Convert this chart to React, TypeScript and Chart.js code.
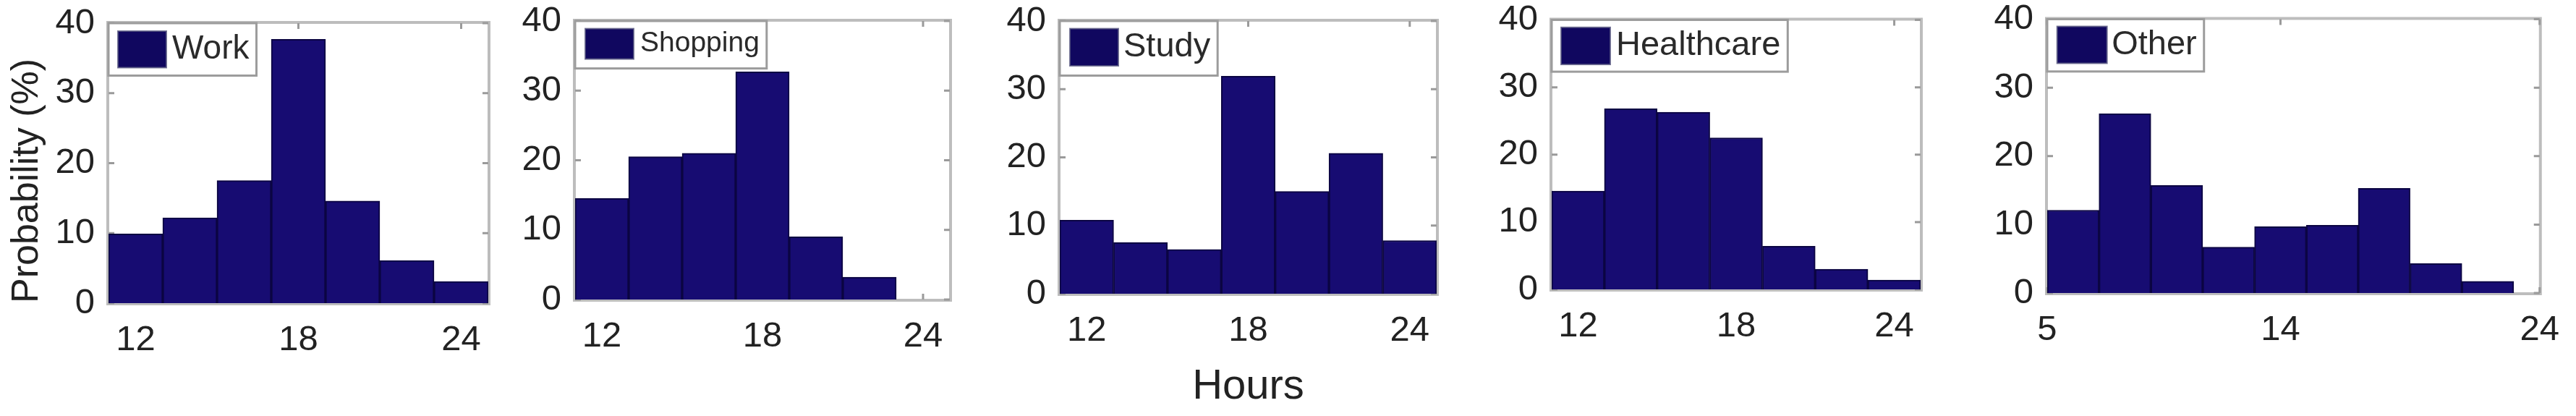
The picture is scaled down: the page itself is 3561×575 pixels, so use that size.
import React, { useEffect, useRef } from 'react';
import { Chart, registerables } from 'chart.js';

Chart.register(...registerables);

// ---------------- data ----------------
const CATEGORY_NAMES = ['Work', 'Shopping', 'Study', 'Healthcare', 'Other'];

const HOURS_MAIN = [12, 14, 16, 18, 20, 22, 24];
const HOURS_OTHER = [6, 8, 10, 12, 14, 16, 18, 20, 22];

const WORK_PROB = [9.9, 12.2, 17.5, 37.7, 14.6, 6.1, 3.1];
const SHOPPING_PROB = [14.5, 20.5, 21.0, 32.7, 9.0, 3.2, 0];
const STUDY_PROB = [10.8, 7.5, 6.5, 31.9, 15.0, 20.6, 7.8];
const HEALTHCARE_PROB = [14.6, 26.8, 26.3, 22.5, 6.4, 3.0, 1.4];
const OTHER_PROB = [12.1, 26.2, 15.7, 6.7, 9.7, 9.9, 15.3, 4.3, 1.7];

const X_TICKS_MAIN = [12, 18, 24];
const X_TICKS_OTHER = [5, 14, 24];
const X_RANGE_MAIN = [11, 25];
const X_RANGE_OTHER = [5, 24];

const Y_TICKS = [0, 10, 20, 30, 40];
const Y_RANGE = [0, 40];

const Y_TITLE = 'Probability (%)';
const X_TITLE = 'Hours';

// ---------------- style / layout ----------------
const FONT = '"Liberation Sans", Arial, Helvetica, sans-serif';
const TEXT_COLOR = '#222222';
const BAR_COLOR = '#170c72';
const BAR_EDGE = '#0b0542';
const SWATCH_COLOR = '#10075f';
const BOX_COLOR = '#bdbdbd';
const INNER_TICK_COLOR = '#9a9a9a';
const LEGEND_BORDER = '#9c9c9c';

const TOP_OFFSET = 40;
const PAGE_H = 575;
const PAD_RIGHT = 40;
const TICK_FONT = 49;

const LAYOUTS = [
  { left: 150, right: 675, top: 32, bottom: 419, axisW: 150, lgFont: 46, lgH: 72.5, swDx: 13, swDy: 11, swW: 67, swH: 50.5, gap: 8 },
  { left: 795, right: 1313, top: 29, bottom: 414, axisW: 120, lgFont: 39, lgH: 65.6, swDx: 14, swDy: 10.6, swW: 67, swH: 42, gap: 9 },
  { left: 1465, right: 1986, top: 29, bottom: 406, axisW: 120, lgFont: 47, lgH: 75.5, swDx: 14, swDy: 10.6, swW: 67, swH: 51.4, gap: 7 },
  { left: 2145, right: 2655, top: 27.5, bottom: 400, axisW: 120, lgFont: 47, lgH: 71.6, swDx: 13, swDy: 10.3, swW: 68, swH: 51.3, gap: 8 },
  { left: 2830, right: 3520, top: 26.5, bottom: 405, axisW: 120, lgFont: 47, lgH: 72.3, swDx: 13.7, swDy: 10, swW: 69, swH: 51, gap: 6.5 },
];

const PANELS = [
  { name: CATEGORY_NAMES[0], hours: HOURS_MAIN, prob: WORK_PROB, xTicks: X_TICKS_MAIN, xRange: X_RANGE_MAIN, yTitle: true, xTitle: false },
  { name: CATEGORY_NAMES[1], hours: HOURS_MAIN, prob: SHOPPING_PROB, xTicks: X_TICKS_MAIN, xRange: X_RANGE_MAIN, yTitle: false, xTitle: false },
  { name: CATEGORY_NAMES[2], hours: HOURS_MAIN, prob: STUDY_PROB, xTicks: X_TICKS_MAIN, xRange: X_RANGE_MAIN, yTitle: false, xTitle: true },
  { name: CATEGORY_NAMES[3], hours: HOURS_MAIN, prob: HEALTHCARE_PROB, xTicks: X_TICKS_MAIN, xRange: X_RANGE_MAIN, yTitle: false, xTitle: false },
  { name: CATEGORY_NAMES[4], hours: HOURS_OTHER, prob: OTHER_PROB, xTicks: X_TICKS_OTHER, xRange: X_RANGE_OTHER, yTitle: false, xTitle: false },
];

function makeFramePlugin(panel: any, lay: any) {
  return {
    id: 'frameAndLegend',
    beforeDatasetsDraw(chart: any) {
      const { ctx, chartArea: a, scales } = chart;
      ctx.save();
      ctx.strokeStyle = BOX_COLOR;
      ctx.lineWidth = 4;
      ctx.strokeRect(a.left - 1, a.top - 1, a.right - a.left + 2, a.bottom - a.top + 2);
      ctx.strokeStyle = INNER_TICK_COLOR;
      ctx.lineWidth = 3;
      const L = 8;
      ctx.beginPath();
      for (const v of Y_TICKS) {
        const y = scales.y.getPixelForValue(v);
        ctx.moveTo(a.left, y);
        ctx.lineTo(a.left + L, y);
        ctx.moveTo(a.right, y);
        ctx.lineTo(a.right - L, y);
      }
      for (const v of panel.xTicks) {
        const x = scales.x.getPixelForValue(v);
        ctx.moveTo(x, a.top);
        ctx.lineTo(x, a.top + L);
        ctx.moveTo(x, a.bottom);
        ctx.lineTo(x, a.bottom - L);
      }
      ctx.stroke();
      ctx.restore();
    },
    afterDatasetsDraw(chart: any) {
      const { ctx, chartArea: a } = chart;
      ctx.save();
      ctx.font = `${lay.lgFont}px ${FONT}`;
      const tw = ctx.measureText(panel.name).width;
      const bx = a.left;
      const by = a.top;
      const sx = bx + lay.swDx;
      const sy = by + lay.swDy;
      const tx = sx + lay.swW + lay.gap;
      const bw = tx + tw + 10 - bx;
      ctx.fillStyle = '#ffffff';
      ctx.fillRect(bx, by, bw, lay.lgH);
      ctx.strokeStyle = LEGEND_BORDER;
      ctx.lineWidth = 3;
      ctx.strokeRect(bx, by, bw, lay.lgH);
      ctx.fillStyle = SWATCH_COLOR;
      ctx.fillRect(sx, sy, lay.swW, lay.swH);
      ctx.strokeStyle = 'rgba(90,90,130,0.8)';
      ctx.lineWidth = 2;
      ctx.strokeRect(sx, sy, lay.swW, lay.swH);
      ctx.fillStyle = '#2a2a2a';
      ctx.textAlign = 'left';
      ctx.textBaseline = 'middle';
      ctx.fillText(panel.name, tx, sy + lay.swH / 2);
      ctx.restore();
    },
  };
}

function HistPanel({ index }: { index: number }) {
  const ref = useRef<HTMLCanvasElement | null>(null);
  const panel = PANELS[index];
  const lay = LAYOUTS[index];
  const canvasLeft = lay.left - lay.axisW;
  const canvasW = lay.axisW + (lay.right - lay.left) + PAD_RIGHT;
  const canvasH = PAGE_H + TOP_OFFSET;
  const xAxisH = PAGE_H - lay.bottom;

  useEffect(() => {
    if (!ref.current) return;
    const chart = new Chart(ref.current, {
      type: 'bar',
      data: {
        datasets: [
          {
            label: panel.name,
            data: panel.hours.map((h, i) => ({ x: h, y: panel.prob[i] })),
            backgroundColor: BAR_COLOR,
            borderColor: BAR_EDGE,
            borderWidth: 2,
            barPercentage: 1,
            categoryPercentage: 1,
          },
        ],
      },
      options: {
        responsive: false,
        maintainAspectRatio: false,
        animation: false,
        devicePixelRatio: 1,
        events: [],
        layout: { padding: { top: lay.top + TOP_OFFSET, right: PAD_RIGHT, left: 0, bottom: 0 } },
        plugins: { legend: { display: false }, tooltip: { enabled: false } },
        scales: {
          x: {
            type: 'linear',
            min: panel.xRange[0],
            max: panel.xRange[1],
            offset: false,
            grid: { display: false, drawTicks: false },
            border: { display: false },
            ticks: {
              autoSkip: false,
              maxRotation: 0,
              padding: 22,
              color: TEXT_COLOR,
              font: { family: FONT, size: TICK_FONT },
            },
            afterBuildTicks: (s: any) => {
              s.ticks = panel.xTicks.map((v) => ({ value: v }));
            },
            afterFit: (s: any) => {
              s.height = xAxisH;
            },
            title: {
              display: panel.xTitle,
              text: X_TITLE,
              color: TEXT_COLOR,
              font: { family: FONT, size: 58 },
              padding: { top: 0, bottom: 5 },
            },
          },
          y: {
            type: 'linear',
            min: Y_RANGE[0],
            max: Y_RANGE[1],
            grid: { display: false, drawTicks: false },
            border: { display: false },
            ticks: {
              stepSize: 10,
              padding: 19,
              color: TEXT_COLOR,
              font: { family: FONT, size: TICK_FONT },
            },
            afterBuildTicks: (s: any) => {
              s.ticks = Y_TICKS.map((v) => ({ value: v }));
            },
            afterFit: (s: any) => {
              s.width = lay.axisW;
            },
            title: {
              display: panel.yTitle,
              text: Y_TITLE,
              align: 'start',
              color: TEXT_COLOR,
              font: { family: FONT, size: 52 },
              padding: { top: 6, bottom: 0 },
            },
          },
        },
      },
      plugins: [makeFramePlugin(panel, lay)],
    } as any);
    return () => chart.destroy();
  }, []);

  return (
    <canvas
      ref={ref}
      width={canvasW}
      height={canvasH}
      style={{
        position: 'absolute',
        left: canvasLeft,
        top: -TOP_OFFSET,
        width: canvasW,
        height: canvasH,
      }}
    />
  );
}

export default function App() {
  return (
    <div
      style={{
        position: 'absolute',
        left: 0,
        top: 0,
        width: 3561,
        height: PAGE_H,
        overflow: 'hidden',
        background: '#ffffff',
      }}
    >
      {PANELS.map((_, i) => (
        <HistPanel key={i} index={i} />
      ))}
    </div>
  );
}
